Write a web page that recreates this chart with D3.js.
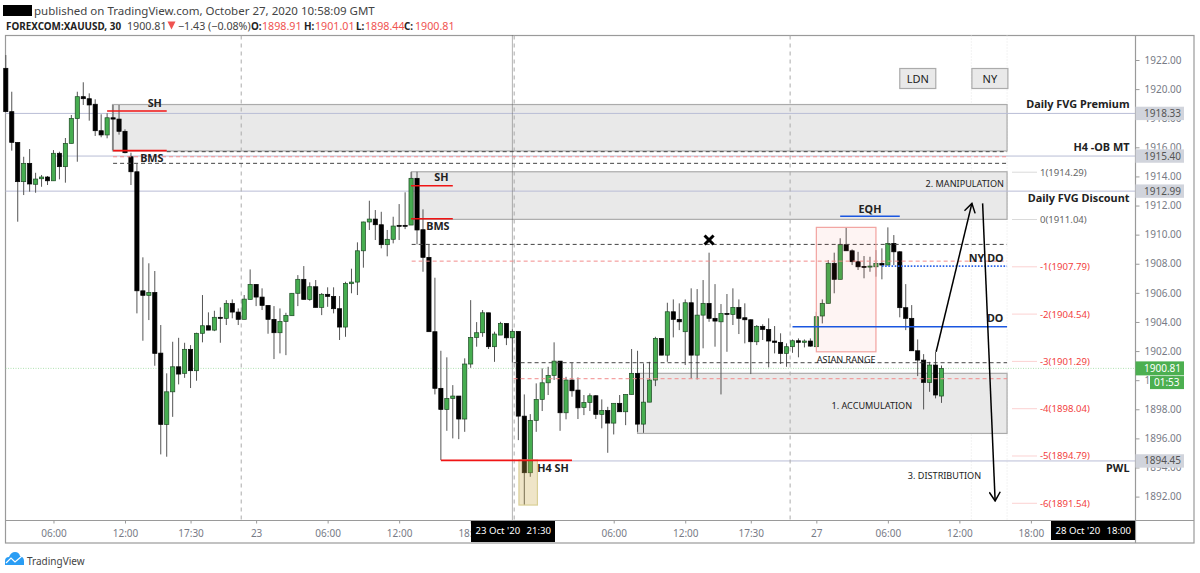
<!DOCTYPE html>
<html>
<head>
<meta charset="utf-8">
<title>XAUUSD 30</title>
<script src="https://cdn.jsdelivr.net/npm/d3@7"></script>
<style>
  html, body { margin: 0; padding: 0; background: #fff; }
  svg { display: block; }
  text { font-family: "Noto Sans", sans-serif; }
</style>
</head>
<body>
<svg id="chart" width="1200" height="573"></svg>
<script>
// CANDLES, ONE ENTRY PER 30 MIN BAR
var opens = [1921.43,1918.45,1916.34,1913.64,1914.90,1913.46,1913.84,1913.96,1913.70,1915.59,
  1914.67,1916.27,1917.97,1919.48,1919.34,1918.96,1917.14,1916.85,1918.03,1917.94,
  1917.10,1915.35,1914.32,1906.14,1905.83,1906.03,1901.86,1896.96,1899.20,1900.92,
  1900.47,1902.12,1900.65,1903.22,1903.74,1903.44,1904.32,1904.25,1905.28,1904.68,
  1904.18,1905.55,1906.58,1905.71,1905.14,1904.18,1903.26,1904.04,1904.43,1905.97,
  1906.93,1905.55,1906.42,1905.00,1905.90,1905.76,1904.91,1903.65,1906.63,1906.74,
  1908.89,1910.87,1911.07,1910.68,1909.31,1909.68,1910.64,1910.64,1910.66,1913.87,
  1910.34,1908.44,1903.33,1899.44,1897.99,1898.75,1898.91,1897.33,1901.11,1902.94,
  1903.26,1904.63,1902.30,1903.10,1903.90,1902.91,1903.35,1897.53,1893.64,1897.24,
  1898.68,1899.82,1900.33,1901.31,1897.76,1900.01,1899.32,1898.13,1898.47,1898.93,
  1897.65,1897.92,1897.05,1898.41,1897.83,1899.02,1900.47,1896.98,1898.49,1900.01,
  1902.87,1901.72,1904.70,1904.18,1903.33,1905.32,1901.72,1904.47,1905.28,1904.25,
  1904.01,1904.59,1904.52,1905.00,1904.29,1904.15,1902.64,1903.70,1903.49,1902.69,
  1902.60,1901.84,1902.30,1902.71,1902.60,1902.69,1902.30,1904.41,1905.28,1908.03,
  1906.93,1909.31,1908.89,1908.14,1907.82,1907.77,1907.79,1908.03,1907.91,1909.40,
  1908.82,1904.98,1904.25,1902.02,1901.38,1899.85,1901.04,1898.91];
var closes = [1918.45,1916.34,1913.64,1914.90,1913.48,1913.82,1913.96,1913.70,1915.59,1914.67,
  1916.27,1917.99,1919.48,1919.34,1918.91,1917.14,1916.85,1918.03,1917.94,1917.10,
  1915.63,1914.32,1906.14,1905.83,1906.03,1901.84,1896.96,1899.20,1900.92,1900.42,
  1902.12,1900.65,1903.22,1903.74,1903.44,1904.32,1904.25,1905.28,1904.68,1904.18,
  1905.57,1906.58,1905.71,1905.14,1904.18,1903.26,1904.04,1904.45,1905.97,1906.93,
  1905.55,1906.42,1905.00,1905.90,1905.76,1904.91,1903.65,1906.65,1906.74,1908.89,
  1910.87,1911.07,1910.68,1909.31,1909.68,1910.59,1910.59,1910.61,1913.87,1910.32,
  1908.44,1903.33,1899.44,1897.99,1898.75,1898.91,1897.33,1901.11,1902.94,1903.26,
  1904.63,1902.30,1903.17,1903.90,1902.91,1903.35,1897.53,1893.64,1897.24,1898.68,
  1899.82,1900.33,1901.31,1897.76,1900.01,1899.27,1898.10,1898.47,1898.93,1897.65,
  1897.92,1897.05,1898.41,1897.83,1899.02,1900.47,1896.98,1898.49,1900.01,1902.87,
  1901.72,1904.70,1904.18,1904.01,1905.32,1901.72,1904.47,1905.28,1904.25,1904.06,
  1904.59,1904.52,1905.00,1904.25,1904.15,1902.64,1903.70,1903.49,1902.69,1902.60,
  1901.84,1902.30,1902.71,1902.60,1902.69,1902.34,1904.36,1905.28,1908.03,1906.93,
  1909.31,1908.89,1908.14,1907.79,1907.77,1907.84,1908.03,1907.91,1909.40,1908.82,
  1904.98,1904.25,1902.02,1901.38,1899.85,1901.04,1898.98,1900.81];
var highs = [1922.34,1919.82,1916.34,1915.35,1915.88,1914.25,1914.10,1914.03,1915.81,1915.70,
  1916.64,1918.22,1919.82,1920.47,1919.71,1919.30,1918.27,1918.34,1918.91,1918.91,
  1917.24,1915.63,1914.85,1908.44,1908.03,1907.50,1903.79,1900.47,1902.64,1902.91,
  1902.57,1902.41,1903.26,1905.85,1904.66,1904.77,1905.00,1905.50,1905.55,1904.93,
  1905.85,1907.61,1906.60,1906.31,1905.16,1905.09,1904.93,1904.63,1905.99,1907.22,
  1907.84,1906.72,1906.88,1905.99,1906.38,1906.38,1905.78,1906.76,1907.66,1909.47,
  1910.89,1912.33,1911.69,1911.57,1910.32,1911.23,1912.10,1912.91,1914.32,1914.32,
  1911.74,1909.33,1907.04,1902.02,1901.57,1899.66,1898.91,1901.50,1905.50,1903.99,
  1904.82,1904.63,1903.33,1904.01,1903.90,1903.49,1903.35,1899.02,1897.67,1899.78,
  1900.81,1900.92,1902.60,1901.31,1900.23,1901.20,1900.19,1898.98,1899.09,1898.98,
  1898.68,1898.17,1898.41,1898.98,1899.02,1902.14,1902.02,1901.15,1901.26,1902.98,
  1902.87,1905.32,1905.55,1905.28,1905.55,1906.31,1906.26,1906.88,1908.76,1906.60,
  1905.23,1905.92,1906.31,1905.55,1905.28,1904.18,1903.79,1903.84,1904.25,1903.72,
  1903.22,1902.53,1902.80,1902.87,1902.80,1902.87,1904.70,1905.55,1908.25,1908.76,
  1909.75,1910.50,1908.99,1908.82,1908.53,1908.48,1908.94,1909.06,1910.50,1909.97,
  1908.87,1906.60,1905.16,1902.80,1901.79,1901.26,1901.95,1901.01];
var lows = [1918.45,1915.77,1910.89,1912.72,1912.95,1912.88,1913.29,1913.41,1913.70,1913.80,
  1913.57,1916.27,1915.01,1918.91,1917.83,1916.78,1916.69,1916.62,1915.81,1916.87,
  1915.59,1913.41,1904.59,1902.71,1904.13,1900.99,1894.90,1894.74,1897.48,1899.71,
  1900.16,1899.46,1899.96,1902.60,1903.44,1903.37,1902.57,1903.79,1904.25,1903.79,
  1904.18,1905.55,1905.09,1904.82,1903.19,1901.45,1901.84,1901.72,1904.43,1905.09,
  1905.55,1905.46,1905.00,1904.47,1905.04,1904.59,1902.76,1902.98,1905.97,1905.85,
  1907.73,1910.32,1909.63,1909.06,1908.51,1909.40,1909.63,1910.38,1910.66,1909.33,
  1907.45,1903.33,1899.02,1894.51,1896.52,1896.00,1895.95,1896.45,1900.85,1902.30,
  1902.98,1902.14,1901.26,1903.10,1902.41,1901.22,1895.88,1891.42,1893.36,1896.45,
  1897.88,1898.98,1900.01,1896.52,1897.31,1898.86,1897.33,1897.60,1897.88,1897.33,
  1896.69,1895.01,1896.27,1897.83,1896.91,1899.02,1896.45,1896.38,1898.49,1899.59,
  1901.72,1901.26,1902.94,1903.44,1901.04,1900.12,1900.05,1902.19,1904.01,1902.30,
  1899.02,1901.95,1903.79,1903.17,1902.53,1900.42,1902.41,1902.76,1900.88,1901.84,
  1901.11,1900.92,1901.88,1901.57,1902.25,1902.30,1902.30,1903.90,1905.28,1905.97,
  1906.93,1908.89,1907.91,1907.57,1907.00,1907.45,1907.11,1906.93,1907.91,1907.91,
  1904.32,1903.44,1902.02,1900.28,1897.99,1899.20,1898.75,1898.44];

// AXIS TICKS
var priceTicks = [1922,1920,1918,1916,1914,1912,1910,1908,1906,1904,1902,1900,1898,1896,1894,1892];
var timeTickBars = [8,20,31,42,54,66,78,102,114,125,136,148,160,172];
var timeTickLabels = ['06:00','12:00','17:30','23','06:00','12:00','18:00','06:00','12:00','17:30','27','06:00','12:00','18:00'];

// SESSION BREAKS
var sessionBars = [39.5,85.3,131.6];
var faintBars = [162,168];

// TAGGED LINES ON THE PRICE AXIS
var tagPrices = [1918.33,1915.40,1912.99,1894.45];
var tagFromBars = [-1,7.9,-1,95];
var lastPrice = 1900.81;

// FIB PROJECTIONS
var fibLabels = ['1','0','-1','-2','-3','-4','-5','-6'];
var fibPrices = [1914.29,1911.04,1907.79,1904.54,1901.29,1898.04,1894.79,1891.54];

// ZONES: bar from, price top, price bottom (all run out to bar 168)
var zoneFrom = [17.9,68.1,106];
var zoneTop = [1918.94,1914.32,1900.47];
var zoneBottom = [1915.75,1911.05,1896.34];

// DASHED LEVELS: bar from, price (all run out to bar 168)
var dashFrom = [18,18,68.1,68.1,85.2,85.2,27];
var dashPrice = [1914.90,1915.35,1909.33,1908.18,1901.20,1900.10,1915.70];
var dashRed = [false,true,false,true,false,true,false];

// RED SWING LINES
var swingFrom = [17,18,68,68,73];
var swingTo = [27,27,75,75,95];
var swingPrice = [1918.50,1915.77,1913.36,1911.09,1894.49];

// WORDS ON THE CHART: bar, price, text
var noteBar = [25,24.5,73.1,72.5,91.8,145,164.5,166,141,145.3,160.9,157.5];
var notePrice = [1918.77,1914.97,1913.66,1910.32,1893.70,1911.49,1908.14,1904.01,1901.20,1898.03,1913.25,1893.20];
var noteText = ['SH','BMS','SH','BMS','H4 SH','EQH','NY DO','DO','ASIAN RANGE','1. ACCUMULATION','2. MANIPULATION','3. DISTRIBUTION'];

var sideNotes = ['Daily FVG Premium','H4 -OB MT','Daily FVG Discount','PWL'];
var sideNotePrice = [1918.72,1915.77,1912.24,1893.70];

var legendKeys = ['O:','H:','L:','C:'];
var legendValues = ['1898.91','1901.01','1898.44','1900.81'];

// SCALES
var x = d3.scaleLinear().domain([0,157]).range([5.8,941.5]);
var y = d3.scaleLinear().domain([1922,1892]).range([60,496.6]);

var settings = {
  left: 5.5, right: 1135.5, top: 35.5, bottom: 520.5, frameRight: 1194, frameBottom: 543,
  green: '#46ad50', gray: '#787b86', line: '#9a9a9a', tag: '#d1d4dc', red: '#ef5350'
};

var svg = d3.select('#chart');
var up = (i) => closes[i] >= opens[i];

// HEADER
svg.append('rect').attr('x',3).attr('y',5).attr('width',29).attr('height',11).attr('fill','#000');
svg.append('text').attr('x',34).attr('y',15).attr('font-size',11.5).attr('fill','#444')
  .text('published on TradingView.com, October 27, 2020 10:58:09 GMT');
svg.append('text').attr('x',6).attr('y',30).attr('font-size',9.9).attr('font-weight',700).attr('fill','#222')
  .text('FOREXCOM:XAUUSD, 30');
svg.append('text').attr('x',127).attr('y',30).attr('font-size',10.7).attr('fill','#444').text('1900.81');
svg.append('path').attr('d','M167.5 21.5h8l-4 8z').attr('fill',settings.red);
svg.append('text').attr('x',178).attr('y',30).attr('font-size',10.7).attr('fill','#444').text('\u22121.43 (\u22120.08%)');
var legendX = [251,304,356,404];
legendKeys.forEach((k,i) => {
  svg.append('text').attr('x',legendX[i]).attr('y',30).attr('font-size',9.9).attr('font-weight',700).attr('fill','#222').text(k);
  svg.append('text').attr('x',legendX[i] + (i == 2 ? 9 : 11)).attr('y',30).attr('font-size',10.7).attr('fill',settings.red).text(legendValues[i]);
});

// FRAME
svg.append('rect').attr('x',settings.left).attr('y',settings.top)
  .attr('width',settings.frameRight - settings.left).attr('height',settings.frameBottom - settings.top)
  .attr('fill','none').attr('stroke',settings.line).attr('stroke-width',1.2);

// FAINT VERTICALS
svg.selectAll('.faint').data(faintBars).enter().append('line')
  .attr('x1',(d) => x(d)).attr('x2',(d) => x(d)).attr('y1',settings.top).attr('y2',settings.bottom)
  .attr('stroke','#e6e6e6').attr('stroke-dasharray','1 2');

// ZONES
svg.selectAll('.zone').data(zoneFrom).enter().append('rect')
  .attr('x',(d) => x(d)).attr('width',(d) => x(168) - x(d))
  .attr('y',(d,i) => y(zoneTop[i])).attr('height',(d,i) => y(zoneBottom[i]) - y(zoneTop[i]))
  .attr('fill','#e9e9e9').attr('stroke','#ababab').attr('stroke-width',1.2);

// PINK AND YELLOW BOXES GO OVER THE CANDLES LATER, LINES UNDER THEM FIRST
tagPrices.forEach((p,i) => {
  svg.append('line').attr('x1',Math.max(x(tagFromBars[i]),settings.left)).attr('x2',settings.right)
    .attr('y1',y(p)).attr('y2',y(p)).attr('stroke','#b9bdd6').attr('stroke-width',1);
});
svg.append('line').attr('x1',settings.left).attr('x2',settings.right)
  .attr('y1',y(lastPrice)).attr('y2',y(lastPrice))
  .attr('stroke','#8fd694').attr('stroke-dasharray','1 1.5').attr('opacity',0.7);

// SESSION BREAKS
svg.selectAll('.session').data(sessionBars).enter().append('line')
  .attr('x1',(d) => x(d)).attr('x2',(d) => x(d)).attr('y1',settings.top).attr('y2',settings.bottom)
  .attr('stroke','#aaa').attr('stroke-dasharray','4 4');
svg.append('line').attr('x1',x(85)).attr('x2',x(85)).attr('y1',settings.top).attr('y2',settings.bottom)
  .attr('stroke','#666').attr('stroke-dasharray','1 1');

// CANDLES
var bars = d3.range(opens.length);
svg.selectAll('.wick').data(bars).enter().append('line')
  .attr('x1',(i) => x(i)).attr('x2',(i) => x(i))
  .attr('y1',(i) => y(highs[i])).attr('y2',(i) => y(lows[i]))
  .attr('stroke','#555').attr('stroke-width',1);
svg.selectAll('.body').data(bars).enter().append('rect')
  .attr('x',(i) => x(i) - 2.1).attr('width',4.2)
  .attr('y',(i) => y(Math.max(opens[i],closes[i])))
  .attr('height',(i) => Math.max(y(Math.min(opens[i],closes[i])) - y(Math.max(opens[i],closes[i])),1))
  .attr('fill',(i) => up(i) ? settings.green : '#000')
  .attr('stroke',(i) => up(i) ? '#1d4a24' : '#000').attr('stroke-width',0.7);

// DASHED LEVELS
svg.selectAll('.dash').data(dashFrom).enter().append('line')
  .attr('x1',(d) => x(d)).attr('x2',x(168))
  .attr('y1',(d,i) => y(dashPrice[i])).attr('y2',(d,i) => y(dashPrice[i]))
  .attr('stroke',(d,i) => dashRed[i] ? '#f28b8b' : '#444')
  .attr('stroke-dasharray','4 3').attr('stroke-width',1);

// PINK ASIAN RANGE BOX, YELLOW BOX
svg.append('rect').attr('x',x(136)).attr('width',x(146) - x(136))
  .attr('y',y(1910.50)).attr('height',y(1901.95) - y(1910.50))
  .attr('fill','#f44336').attr('fill-opacity',0.06).attr('stroke','#f2a3a0').attr('stroke-width',1.2);
svg.append('rect').attr('x',x(86.1)).attr('width',x(89.2) - x(86.1))
  .attr('y',y(1894.51)).attr('height',y(1891.42) - y(1894.51))
  .attr('fill','#c9a94a').attr('fill-opacity',0.3).attr('stroke','#d9cf96').attr('stroke-width',1.2);

// SWING LINES
svg.selectAll('.swing').data(swingFrom).enter().append('line')
  .attr('x1',(d) => x(d)).attr('x2',(d,i) => x(swingTo[i]))
  .attr('y1',(d,i) => y(swingPrice[i])).attr('y2',(d,i) => y(swingPrice[i]))
  .attr('stroke','#f01414').attr('stroke-width',1.6);

// BLUE LINES: EQH, DO, NY DO
svg.append('line').attr('x1',x(140)).attr('x2',x(150)).attr('y1',y(1911.26)).attr('y2',y(1911.26))
  .attr('stroke','#1a56e0').attr('stroke-width',1.6);
svg.append('line').attr('x1',x(132)).attr('x2',x(168)).attr('y1',y(1903.67)).attr('y2',y(1903.67))
  .attr('stroke','#1a56e0').attr('stroke-width',1.6);
svg.append('line').attr('x1',x(147)).attr('x2',x(168)).attr('y1',y(1907.84)).attr('y2',y(1907.84))
  .attr('stroke','#2b63e8').attr('stroke-width',1.6).attr('stroke-dasharray','1.6 1.6');

// CROSS
svg.append('path').attr('d',d3.symbol().type(d3.symbolTimes).size(55)())
  .attr('transform','translate(' + x(118) + ',' + y(1909.63) + ')')
  .attr('fill','none').attr('stroke','#000').attr('stroke-width',3);

// ARROWS
svg.append('defs').append('marker').attr('id','head')
  .attr('viewBox','-10 -6 11 12').attr('refX',0).attr('refY',0)
  .attr('markerWidth',11).attr('markerHeight',12).attr('markerUnits','userSpaceOnUse').attr('orient','auto')
  .append('path').attr('d','M-9,-5.5 L0,0 L-9,5.5').attr('fill','none').attr('stroke','#000').attr('stroke-width',1.5);
var arrowFrom = [[156.1,1901.95],[163.9,1912.15]];
var arrowTo = [[162.1,1912.15],[166,1891.70]];
arrowFrom.forEach((a,i) => {
  svg.append('line').attr('x1',x(a[0])).attr('y1',y(a[1])).attr('x2',x(arrowTo[i][0])).attr('y2',y(arrowTo[i][1]))
    .attr('stroke','#000').attr('stroke-width',1.5).attr('marker-end','url(#head)');
});

// NOTES
noteText.forEach((t,i) => {
  var plain = i >= 8;
  svg.append('text').attr('x',x(noteBar[i])).attr('y',y(notePrice[i])).attr('text-anchor','middle')
    .attr('font-family','"DejaVu Sans", sans-serif')
    .attr('font-size',plain ? 9.1 : 10.8).attr('font-weight',plain ? 400 : 700)
    .attr('fill','#222').text(t);
});
sideNotes.forEach((t,i) => {
  svg.append('text').attr('x',1129.5).attr('y',y(sideNotePrice[i])).attr('text-anchor','end')
    .attr('font-family','"DejaVu Sans", sans-serif')
    .attr('font-size',10.9).attr('font-weight',700).attr('fill','#222').text(t);
});

// LDN AND NY BUTTONS
var buttonBars = [150,162.1];
['LDN','NY'].forEach((t,i) => {
  svg.append('rect').attr('x',x(buttonBars[i])).attr('y',68.5).attr('width',36).attr('height',20)
    .attr('fill','#e9e9e9').attr('stroke','#ababab').attr('stroke-width',1.2);
  svg.append('text').attr('x',x(buttonBars[i]) + 18).attr('y',82.5).attr('text-anchor','middle')
    .attr('font-size',11).attr('fill','#222').text(t);
});

// FIB LABELS
fibPrices.forEach((p,i) => {
  svg.append('line').attr('x1',1012.5).attr('x2',1037).attr('y1',y(p)).attr('y2',y(p))
    .attr('stroke',i < 2 ? '#b5b5b5' : '#f7a3a3').attr('stroke-dasharray','1 1');
  svg.append('text').attr('x',1040).attr('y',y(p) + 3.5).attr('font-size',9.6)
    .attr('fill',i < 2 ? '#666' : '#f23f3f').text(fibLabels[i] + '(' + p.toFixed(2) + ')');
});

// AXES
svg.append('line').attr('x1',settings.right).attr('x2',settings.right).attr('y1',settings.top).attr('y2',settings.frameBottom).attr('stroke',settings.line).attr('stroke-width',1.2);
svg.append('line').attr('x1',settings.left).attr('x2',settings.frameRight).attr('y1',settings.bottom).attr('y2',settings.bottom).attr('stroke',settings.line).attr('stroke-width',1.2);

var yAxis = svg.append('g').attr('transform','translate(' + settings.right + ',0)')
  .call(d3.axisRight(y).tickValues(priceTicks).tickFormat(d3.format('.2f')).tickSize(4).tickPadding(5));
var xAxis = svg.append('g').attr('transform','translate(0,' + settings.bottom + ')')
  .call(d3.axisBottom(x).tickValues(timeTickBars).tickFormat((d,i) => timeTickLabels[i]).tickSize(3).tickPadding(6));
[yAxis,xAxis].forEach((a) => {
  a.select('.domain').remove();
  a.selectAll('line').attr('stroke',settings.line);
  a.selectAll('text').attr('fill',settings.gray).attr('font-size',10).attr('font-family','Roboto, sans-serif');
});

// PRICE TAGS
tagPrices.forEach((p) => {
  svg.append('rect').attr('x',settings.right).attr('y',y(p) - 6.7).attr('width',48.5).attr('height',13.4).attr('fill',settings.tag);
  svg.append('text').attr('x',1144).attr('y',y(p) + 3.5).attr('font-size',10).attr('font-family','Roboto, sans-serif').attr('fill','#555').text(p.toFixed(2));
});
svg.append('rect').attr('x',settings.right).attr('y',y(lastPrice) - 7).attr('width',48.5).attr('height',14).attr('fill','#4caf50');
svg.append('text').attr('x',1144).attr('y',y(lastPrice) + 3.5).attr('font-size',10).attr('font-family','Roboto, sans-serif').attr('fill','#fff').text(lastPrice.toFixed(2));
svg.append('rect').attr('x',1150).attr('y',y(lastPrice) + 7.7).attr('width',34).attr('height',13).attr('fill','#4caf50');
svg.append('text').attr('x',1154).attr('y',y(lastPrice) + 18).attr('font-size',10).attr('font-family','Roboto, sans-serif').attr('fill','#fff').text('01:53');

// CROSSHAIR DATE TAGS
var dateTagX = [471,1051];
var dateTagDay = ["23 Oct '20","28 Oct '20"];
var dateTagTime = ['21:30','18:00'];
dateTagX.forEach((tx,i) => {
  svg.append('rect').attr('x',tx).attr('y',521).attr('width',84).attr('height',i == 0 ? 21 : 19).attr('fill','#000');
  svg.append('text').attr('x',tx + 4.5).attr('y',534).attr('font-size',9.6).attr('font-family','Roboto, sans-serif').attr('fill','#fff').text(dateTagDay[i]);
  svg.append('text').attr('x',tx + 80).attr('y',534).attr('text-anchor','end').attr('font-size',9.6).attr('font-family','Roboto, sans-serif').attr('fill','#fff').text(dateTagTime[i]);
});

// LOGO
svg.append('path').attr('d','M5 565 L5 561 Q5 557 9 557 Q11 552 15 552 Q19 552 20 556 Q24 557 24 561 L24 565 Z').attr('fill','#2a9df4');
svg.append('path').attr('d','M6 563 L11 558 L15 562 L22 556').attr('fill','none').attr('stroke','#fff').attr('stroke-width',1.2);
svg.append('text').attr('x',27).attr('y',565).attr('font-size',10).attr('fill','#444').text('TradingView');
</script>
</body>
</html>
